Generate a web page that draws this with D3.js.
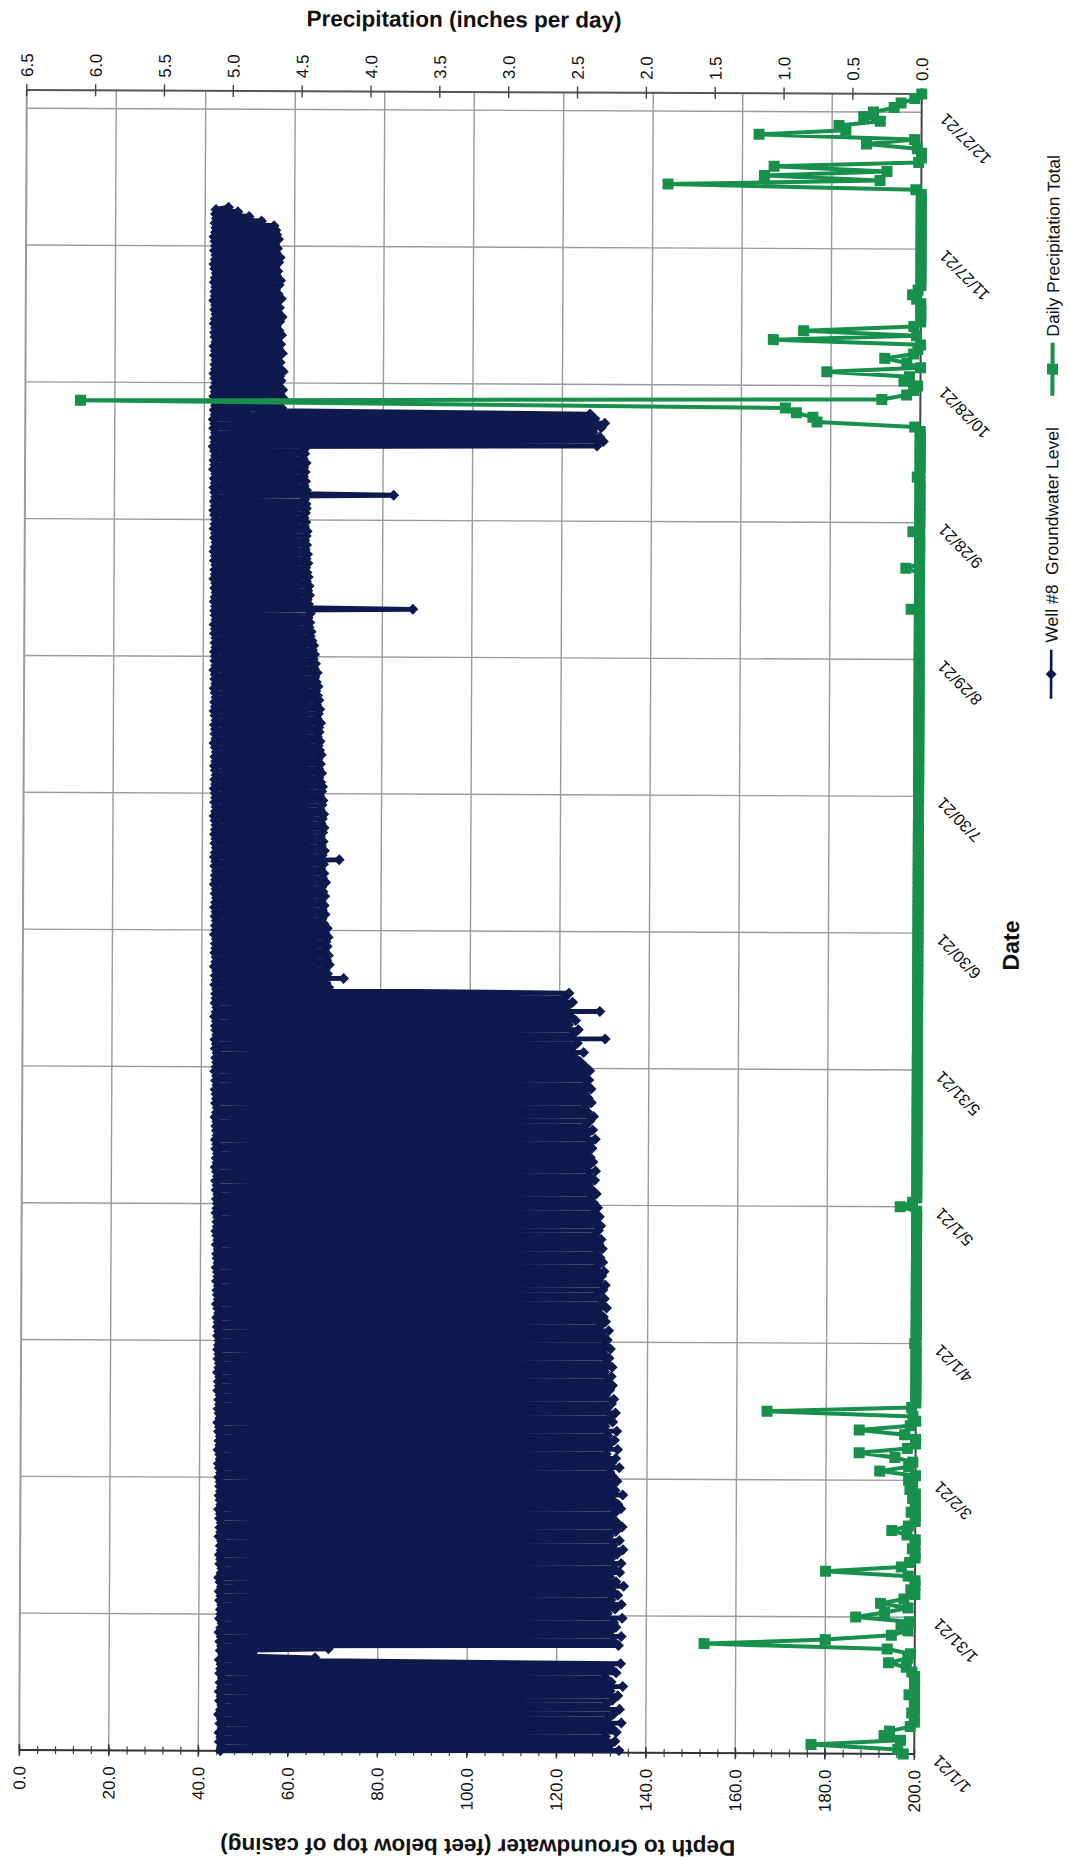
<!DOCTYPE html>
<html>
<head>
<meta charset="utf-8">
<script src="https://cdn.jsdelivr.net/npm/d3@7"></script>
<style>
  body { margin: 0; background: #fff; }
  svg { display: block; }
  text { font-family: "Liberation Sans", Arial, sans-serif; fill: #111; }
</style>
</head>
<body>
<svg id="chart" width="1070" height="1860"></svg>
<script>
// ---- Axis tick labels ----
const dateTickLabels = ["1/1/21", "1/31/21", "3/2/21", "4/1/21", "5/1/21", "5/31/21", "6/30/21",
  "7/30/21", "8/29/21", "9/28/21", "10/28/21", "11/27/21", "12/27/21"];
const depthTicks = [0, 20, 40, 60, 80, 100, 120, 140, 160, 180, 200];
const precipTicks = [0, 0.5, 1, 1.5, 2, 2.5, 3, 3.5, 4, 4.5, 5, 5.5, 6, 6.5];

// ---- Well #8 groundwater level: daily static (recovered) reading, feet below top of casing ----
const wellStaticJan = [44.9,45.2,44.7,45.0,44.6,45.3,44.8,45.1,44.5,44.9,45.2,44.7,45.0,44.6,45.1,44.8,45.3,44.7,44.9,45.0,44.6,45.4,44.8,45.1,44.7,45.0,44.5,44.9,45.2,44.6,44.9];
const wellStaticFeb = [44.8,45.1,44.6,44.9,44.5,45.0,44.7,44.4,44.9,45.1,44.6,44.8,44.5,44.9,44.7,45.0,44.4,44.8,44.6,44.9,44.5,44.7,44.3,44.8,44.6,44.4,44.7,44.5];
const wellStaticMar = [44.6,44.3,44.7,44.4,44.2,44.6,44.5,44.1,44.5,44.3,44.6,44.2,44.4,44.0,44.5,44.3,44.1,44.4,44.2,44.5,44.0,44.3,44.1,44.4,43.9,44.2,44.3,44.0,44.2,43.9,44.1];
const wellStaticApr = [44.2,43.9,44.1,43.8,44.0,43.7,44.1,43.9,43.6,44.0,43.8,43.7,44.0,43.6,43.9,43.8,43.5,43.9,43.7,43.6,43.9,43.5,43.8,43.6,43.4,43.7,43.6,43.8,43.4,43.6];
const wellStaticMay = [43.7,43.5,43.8,43.4,43.6,43.3,43.7,43.5,43.2,43.6,43.4,43.7,43.3,43.5,43.2,43.6,43.4,43.3,43.5,43.1,43.4,43.6,43.2,43.4,43.3,43.1,43.5,43.2,43.4,43.0,43.3];
const wellStaticJun = [43.4,43.2,43.5,43.1,43.3,43.0,43.4,43.2,43.1,43.3,42.9,43.2,43.4,43.0,43.2,43.1,43.3,42.9,43.2,43.0,43.3,42.8,43.1,43.2,42.9,43.1,43.0,43.2,42.8,43.1];
const wellStaticJul = [43.0,43.2,42.9,43.1,42.8,43.0,43.2,42.9,43.1,42.7,43.0,42.9,43.1,42.8,43.0,42.7,42.9,43.1,42.8,43.0,42.7,42.9,43.0,42.8,42.6,42.9,43.0,42.7,42.9,42.8,42.6];
const wellStaticAug = [42.9,42.7,43.0,42.8,42.6,42.9,42.7,43.0,42.8,42.5,42.9,42.7,42.8,42.6,42.9,42.7,42.5,42.8,42.6,42.9,42.7,42.5,42.8,42.6,42.7,42.4,42.8,42.6,42.7,42.5,42.8];
const wellStaticSep = [42.6,42.8,42.5,42.7,42.4,42.8,42.6,42.5,42.7,42.4,42.6,42.8,42.5,42.7,42.3,42.6,42.5,42.7,42.4,42.6,42.3,42.5,42.7,42.4,42.6,42.3,42.5,42.6,42.4,42.2];
const wellStaticOct = [42.5,42.3,42.6,42.4,42.2,42.5,42.3,42.6,42.1,42.4,42.2,42.5,42.3,42.0,42.4,42.2,42.5,42.1,42.3,42.0,42.4,42.2,42.5,42.3,42.1,42.4,42.2,42.5,42.3,42.1,42.4];
const wellStaticNov = [42.3,42.5,42.2,42.4,42.1,42.5,42.3,42.2,42.4,42.1,42.3,42.5,42.2,42.4,42.0,42.3,42.2,42.4,42.1,42.3,42.5,42.2,42.0,42.3,42.4,42.1,42.3,42.2,42.0,42.3];
const wellStaticDec = [42.4,42.2,42.5,42.3,42.4];

// ---- Well #8 groundwater level: daily pumping reading (midday), feet below top of casing ----
const wellPumpJan = [134.0,131.8,133.1,131.0,133.4,132.3,134.5,131.6,132.8,134.1,131.1,132.5,133.7,132.0,134.8,132.2,130.9,133.3,132.1,134.3,66.0,52.0,69.0,133.8,132.6,134.4,131.9,133.2,132.7,134.6,131.3];
const wellPumpFeb = [133.0,134.4,132.1,133.6,132.3,134.9,133.2,131.8,134.0,132.7,134.3,132.0,133.4,134.7,132.5,133.9,131.6,133.1,134.5,133.3,131.9,132.8,134.2,133.5,132.2,134.6,132.9,132.1];
const wellPumpMar = [133.3,132.4,131.7,133.8,132.1,133.0,130.9,133.4,131.5,132.7,131.2,133.2,130.6,132.3,131.8,132.9,131.1,132.0,132.5,130.7,131.6,132.2,131.0,131.9,130.4,132.1,130.8,131.4,130.1,131.7,130.5];
const wellPumpApr = [131.0,129.8,131.3,129.4,130.6,130.1,129.0,130.8,129.6,130.3,128.8,130.0,130.5,129.1,129.7,130.2,128.6,129.9,129.3,128.4,129.8,129.0,129.5,128.1,128.9,129.4,128.3,129.1,127.9,128.7];
const wellPumpMay = [127.8,127.1,128.4,127.3,126.6,128.0,126.8,128.2,126.4,127.6,127.0,126.1,127.4,126.7,128.1,126.2,127.5,125.9,126.9,127.7,126.3,125.8,127.2,126.5,125.6,127.1,126.0,126.6,125.4,126.8,125.7];
const wellPumpJun = [124.6,123.3,125.4,122.8,124.0,130.2,123.1,124.2,122.0,123.6,122.4,129.0,121.7,122.9,121.1,122.1,68.4,67.8,71.7,68.1,67.6,68.5,67.9,68.3,67.4,68.0,67.7,68.2,67.5,68.0];
const wellPumpJul = [67.2,66.8,67.5,66.9,67.3,66.6,67.4,67.0,66.7,67.6,66.9,67.2,66.5,67.1,70.6,66.8,67.3,66.6,67.0,66.4,66.9,67.2,66.5,66.8,67.1,66.3,66.7,66.9,66.2,66.6,66.8];
const wellPumpAug = [66.4,66.0,66.6,65.9,66.3,65.7,66.5,66.1,65.8,66.2,65.6,66.0,65.9,66.3,65.5,65.8,66.1,65.4,65.9,65.6,65.2,65.7,65.3,65.0,65.5,64.8,65.1,64.6,64.9,64.4,64.7];
const wellPumpSep = [64.3,63.9,64.1,63.6,63.8,63.4,63.9,86.8,63.5,63.2,63.7,63.3,63.6,63.0,63.4,63.1,62.8,63.3,62.9,63.2,62.7,63.0,62.6,62.9,63.1,62.5,62.8,62.4,62.7,62.9];
const wellPumpOct = [62.8,62.5,82.4,62.9,62.4,62.7,62.2,62.6,62.3,62.8,62.1,62.5,62.4,127.8,129.2,128.4,126.9,128.7,129.5,127.3,126.2,57.3,56.6,57.8,56.9,57.5,56.4,57.1,56.8,57.6,56.5];
const wellPumpNov = [56.9,56.2,57.4,56.5,57.0,56.1,57.2,56.6,56.0,56.8,57.3,56.3,56.7,55.9,57.1,56.4,55.8,56.6,56.9,56.0,56.3,55.7,56.5,56.8,55.9,56.2,55.6,56.4,56.0,55.8];
const wellPumpDec = [55.4,52.6,49.8,47.3,45.2];

// ---- Daily precipitation total, inches ----
const precipJan = [0.08,0.12,0.75,0.10,0.22,0.18,0.03,0,0,0.02,0,0,0,0.04,0,0,0,0,0.02,0.06,0.19,0.05,0.03,0.20,1.53,0.65,0.17,0.05,0.10,0.04,0.43];
const precipFeb = [0.22,0.05,0.25,0.08,0,0.03,0,0,0.05,0.65,0.10,0.04,0,0,0.02,0,0,0.06,0.17,0.05,0,0,0.03,0,0,0.02,0,0.04];
const precipMar = [0.02,0.05,0,0.26,0.05,0.02,0.15,0.41,0.06,0,0,0.08,0.41,0.04,0,0.02,1.08,0.03,0,0,0,0,0,0,0,0,0,0,0,0,0];
const precipApr = [0.01,0,0,0,0,0,0,0,0,0,0,0,0,0,0,0,0,0,0,0,0,0,0,0,0,0,0,0,0,0];
const precipMay = [0.12,0.03,0,0,0,0,0,0,0,0,0,0,0,0,0,0,0,0,0,0,0,0,0,0,0,0,0,0,0,0,0];
const precipJun = [0,0,0,0,0,0,0,0,0,0,0,0,0,0,0,0,0,0,0,0,0,0,0,0,0,0,0,0,0,0];
const precipJul = [0,0,0,0,0,0,0,0,0,0,0,0,0,0,0,0,0,0,0,0,0,0,0,0,0,0,0,0,0,0,0];
const precipAug = [0,0,0,0,0,0,0,0,0,0,0,0,0,0,0,0,0,0,0,0,0,0,0,0,0,0,0,0,0,0,0];
const precipSep = [0,0,0,0,0,0,0,0,0.06,0,0,0,0,0,0,0,0,0.10,0,0,0,0,0,0,0,0.05,0,0,0,0];
const precipOct = [0,0,0,0,0,0,0,0.02,0,0,0,0,0,0,0,0,0,0,0.04,0.75,0.78,0.90,0.98,6.10,0.28,0.10,0.05,0.02,0.12,0.08,0.68];
const precipNov = [0,0.10,0.26,0.05,0.02,0,1.07,0.03,0.85,0.05,0,0,0,0,0,0.03,0.06,0.02,0,0,0,0,0,0,0,0,0,0,0,0];
const precipDec = [0,0,0,0,0,0,0,0,0,0.04,1.84,0.30,1.14,0.25,1.07,0.02,0,0,0.03,0.40,0.05,1.18,0.55,0.60,0.30,0.42,0.35,0.20,0.15,0.05,0];

// ---- Series assembly ----
const parseDate = d3.utcParse("%m/%d/%y");
const startDate = parseDate("1/1/21");
const endDate = parseDate("12/31/21");

const wellStatic = [].concat(wellStaticJan, wellStaticFeb, wellStaticMar, wellStaticApr, wellStaticMay,
  wellStaticJun, wellStaticJul, wellStaticAug, wellStaticSep, wellStaticOct, wellStaticNov, wellStaticDec);
const wellPump = [].concat(wellPumpJan, wellPumpFeb, wellPumpMar, wellPumpApr, wellPumpMay,
  wellPumpJun, wellPumpJul, wellPumpAug, wellPumpSep, wellPumpOct, wellPumpNov, wellPumpDec);
const precip = [].concat(precipJan, precipFeb, precipMar, precipApr, precipMay, precipJun,
  precipJul, precipAug, precipSep, precipOct, precipNov, precipDec);

const wellReadings = [];
wellStatic.forEach((v, i) => {
  const day = d3.utcDay.offset(startDate, i);
  wellReadings.push({ date: day, depth: v });
  wellReadings.push({ date: d3.utcHour.offset(day, 12), depth: wellPump[i] });
});
const precipReadings = precip.map((v, i) => ({ date: d3.utcDay.offset(startDate, i), value: v }));

// ---- Layout (chart is laid out landscape, then turned to portrait) ----
const NAVY = "#0e1a4e";
const GREEN = "#17904b";
const GRID = "#9a9a9a";
const plot = { left: 108, right: 1768, top: 23, bottom: 918 };

const svg = d3.select("#chart");
const root = svg.append("g")
  .attr("transform", "rotate(0.26 470 922) translate(0 1860) rotate(-90)");

const x = d3.scaleUtc().domain([startDate, endDate]).range([plot.left, plot.right]);
const yDepth = d3.scaleLinear().domain([0, 200]).range([plot.top, plot.bottom]);
const yPrecip = d3.scaleLinear().domain([0, 6.5]).range([plot.bottom, plot.top]);

const dateTicks = dateTickLabels.map(parseDate);
const fmt1 = d3.format(".1f");

// ---- Gridlines ----
const grid = root.append("g");
grid.selectAll("line.vgrid")
  .data(dateTicks.slice(1))
  .join("line")
  .attr("x1", d => x(d)).attr("x2", d => x(d))
  .attr("y1", plot.top).attr("y2", plot.bottom)
  .attr("stroke", GRID).attr("stroke-width", 1.4);
grid.selectAll("line.hgrid")
  .data(depthTicks.slice(0, -1))
  .join("line")
  .attr("x1", plot.left).attr("x2", plot.right)
  .attr("y1", d => yDepth(d)).attr("y2", d => yDepth(d))
  .attr("stroke", GRID).attr("stroke-width", d => d === 0 ? 2 : 1.4);

// ---- Depth axis (left in landscape) ----
const depthAxis = root.append("g").attr("transform", `translate(${plot.left},0)`);
depthAxis.call(d3.axisLeft(yDepth).tickValues(d3.range(0, 201, 4)).tickSize(4).tickFormat(""))
  .call(g => g.select(".domain").remove())
  .call(g => g.selectAll(".tick line").attr("x1", 4).attr("stroke", "#444").attr("stroke-width", 1.2));
depthAxis.append("line").attr("y1", plot.top).attr("y2", plot.bottom)
  .attr("stroke", "#333").attr("stroke-width", 2);
depthAxis.selectAll("line.major")
  .data(depthTicks).join("line")
  .attr("x1", -6).attr("x2", 6)
  .attr("y1", d => yDepth(d)).attr("y2", d => yDepth(d))
  .attr("stroke", "#333").attr("stroke-width", 1.4);
depthAxis.selectAll("text.lab")
  .data(depthTicks).join("text")
  .attr("x", -16).attr("y", d => yDepth(d)).attr("dy", "0.36em")
  .attr("text-anchor", "end").attr("font-size", 17)
  .text(d => fmt1(d));

// ---- Precipitation axis (right in landscape) ----
const precipAxis = root.append("g").attr("transform", `translate(${plot.right},0)`);
precipAxis.append("line").attr("y1", plot.top).attr("y2", plot.bottom)
  .attr("stroke", "#555").attr("stroke-width", 2);
precipAxis.selectAll("line.major")
  .data(precipTicks).join("line")
  .attr("x1", -6).attr("x2", 6)
  .attr("y1", d => yPrecip(d)).attr("y2", d => yPrecip(d))
  .attr("stroke", "#444").attr("stroke-width", 1.4);
precipAxis.selectAll("text.lab")
  .data(precipTicks).join("text")
  .attr("x", 13).attr("y", d => yPrecip(d)).attr("dy", "0.36em")
  .attr("text-anchor", "start").attr("font-size", 17)
  .text(d => fmt1(d));

// ---- Date axis (bottom in landscape) ----
const dateAxis = root.append("g");
dateAxis.append("line")
  .attr("x1", plot.left).attr("x2", plot.right)
  .attr("y1", plot.bottom).attr("y2", plot.bottom)
  .attr("stroke", "#444").attr("stroke-width", 2);
dateAxis.selectAll("text.lab")
  .data(dateTicks).join("text")
  .attr("transform", (d) => `translate(${x(d) - 4},${plot.bottom + 21}) rotate(-45)`)
  .attr("dy", "0.36em")
  .attr("text-anchor", "end").attr("font-size", 16.5)
  .text((d, i) => dateTickLabels[i]);

// ---- Well #8 groundwater level (dense pump cycling reads as a solid band) ----
const diamond = "M0,-5.5L5.5,0L0,5.5L-5.5,0Z";
const wellLine = d3.line().x(d => x(d.date)).y(d => yDepth(d.depth));
root.append("path").datum(wellReadings)
  .attr("d", wellLine)
  .attr("fill", "none").attr("stroke", NAVY).attr("stroke-width", 4.8)
  .attr("stroke-linejoin", "round");
root.append("g").selectAll("path")
  .data(wellReadings).join("path")
  .attr("transform", d => `translate(${x(d.date)},${yDepth(d.depth)})`)
  .attr("d", diamond).attr("fill", NAVY);

// ---- Daily precipitation total ----
const precipLine = d3.line().x(d => x(d.date)).y(d => yPrecip(d.value));
root.append("path").datum(precipReadings)
  .attr("d", precipLine)
  .attr("fill", "none").attr("stroke", GREEN).attr("stroke-width", 4)
  .attr("stroke-linejoin", "round");
root.append("g").selectAll("rect")
  .data(precipReadings).join("rect")
  .attr("x", d => x(d.date) - 5.5).attr("y", d => yPrecip(d.value) - 5.5)
  .attr("width", 11).attr("height", 11)
  .attr("fill", GREEN);

// ---- Axis titles ----
root.append("text")
  .attr("transform", "translate(21,482) rotate(-90)")
  .attr("text-anchor", "middle").attr("font-size", 22.5).attr("font-weight", "bold")
  .text("Depth to Groundwater (feet below top of casing)");
root.append("text")
  .attr("transform", "translate(1833,460) rotate(90)")
  .attr("text-anchor", "middle").attr("font-size", 22.5).attr("font-weight", "bold")
  .text("Precipitation (inches per day)");
root.append("text")
  .attr("x", 917).attr("y", 1019)
  .attr("text-anchor", "middle").attr("font-size", 23).attr("font-weight", "bold")
  .text("Date");

// ---- Legend ----
const legend = root.append("g").attr("transform", "translate(0,1050)");
legend.append("line").attr("x1", 1164).attr("x2", 1213)
  .attr("stroke", NAVY).attr("stroke-width", 2.6);
legend.append("path").attr("transform", "translate(1188.5,0)").attr("d", diamond).attr("fill", NAVY);
legend.append("text").attr("x", 1220).attr("dy", "0.36em").attr("font-size", 17.5)
  .style("white-space", "pre").text("Well #8  Groundwater Level");
legend.append("line").attr("x1", 1467).attr("x2", 1520)
  .attr("stroke", GREEN).attr("stroke-width", 4);
legend.append("rect").attr("x", 1488).attr("y", -5.5).attr("width", 11).attr("height", 11).attr("fill", GREEN);
legend.append("text").attr("x", 1526).attr("dy", "0.36em").attr("font-size", 17.5)
  .text("Daily Precipitation Total");
</script>
</body>
</html>
